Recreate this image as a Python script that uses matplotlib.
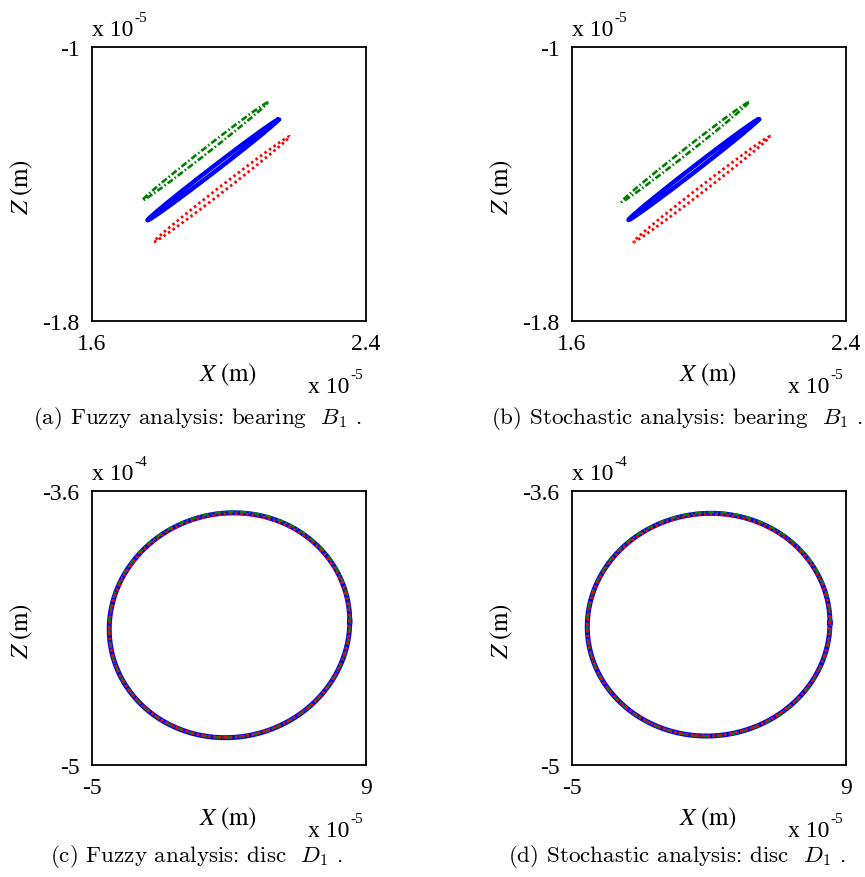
import matplotlib
matplotlib.use("Agg")
import matplotlib.pyplot as plt
import numpy as np

# orbit data. x in 1e-5 m, z in 1e-5 m (bearing) / 1e-4 m (disc)
# order of each list: upper bound (green), nominal (blue), lower bound (red)
fuzzy_b1_cx = [1.930, 1.953, 1.979]
fuzzy_b1_cz = [-1.305, -1.359, -1.415]
fuzzy_b1_ax = [0.183, 0.191, 0.198]
fuzzy_b1_az = [0.143, 0.147, 0.154]
fuzzy_b1_phase = [4.0, 3.6, 4.0]

stoch_b1_cx = [1.930, 1.955, 1.979]
stoch_b1_cz = [-1.307, -1.358, -1.415]
stoch_b1_ax = [0.185, 0.190, 0.199]
stoch_b1_az = [0.145, 0.147, 0.154]
stoch_b1_phase = [4.0, 3.6, 4.0]

fuzzy_d1_cx = [2.03, 2.025, 2.02]
fuzzy_d1_cz = [-4.283, -4.286, -4.288]
fuzzy_d1_ax = [6.16, 6.145, 6.13]
fuzzy_d1_az = [0.577, 0.5745, 0.571]
fuzzy_d1_phase = [88.0, 88.0, 88.0]

stoch_d1_cx = [1.99, 1.98, 1.975]
stoch_d1_cz = [-4.281, -4.283, -4.285]
stoch_d1_ax = [6.22, 6.20, 6.19]
stoch_d1_az = [0.572, 0.569, 0.566]
stoch_d1_phase = [89.0, 89.0, 89.0]

bearing_xlim = [1.6, 2.4]
bearing_zlim = [-1.8, -1.0]
bearing_xticks = ["1.6", "2.4"]
bearing_zticks = ["-1.8", "-1"]
disc_xlim = [-5, 9]
disc_zlim = [-5, -3.6]
disc_xticks = ["-5", "9"]
disc_zticks = ["-5", "-3.6"]

captions = [
    r"(a) Fuzzy analysis: bearing  $B_1$ .",
    r"(b) Stochastic analysis: bearing  $B_1$ .",
    r"(c) Fuzzy analysis: disc  $D_1$ .",
    r"(d) Stochastic analysis: disc  $D_1$ .",
]

W, H = 865, 878
fig = plt.figure(figsize=(W / 100, H / 100), dpi=100)

serif = "Liberation Serif"
fs = 17


def fx(px):
    return px / W


def fy(py):
    return 1 - py / H


def panel(left, top, cx, cz, ax_, az_, ph, xlim, zlim, xt, zt, xexp, zexp, caption, cap_dy, blue_lw):
    ax = fig.add_axes([fx(left), fy(top + 274), fx(274), 274 / H])
    t = np.linspace(0, 2 * np.pi, 600)
    styles = [
        dict(color="green", lw=1.9, dashes=(2.4, 0.9, 0.6, 0.9), zorder=3),
        dict(color="blue", lw=blue_lw, ls="-", zorder=2),
        dict(color="red", lw=2.0, dashes=(0.9, 1.1), zorder=4),
    ]
    for i in [1, 0, 2]:
        x = cx[i] + ax_[i] * np.cos(t)
        z = cz[i] + az_[i] * np.cos(t - np.deg2rad(ph[i]))
        ax.plot(x, z, **styles[i])
    ax.set_xlim(xlim)
    ax.set_ylim(zlim)
    ax.set_xticks(xlim)
    ax.set_xticklabels(xt, fontfamily=serif, fontsize=fs)
    ax.set_yticks(zlim)
    ax.set_yticklabels(zt, fontfamily=serif, fontsize=fs)
    ax.tick_params(length=0, pad=9)
    for s in ax.spines.values():
        s.set_linewidth(1.3)

    # axis labels
    fig.text(fx(left + 136), fy(top + 327), r"$X\;\mathrm{(m)}$", ha="center", va="center",
             fontsize=fs + 1, math_fontfamily="stix")
    fig.text(fx(left - 70), fy(top + 139), r"$Z\;\mathrm{(m)}$", ha="center", va="center",
             rotation=90, fontsize=fs + 1, math_fontfamily="stix")

    # exponent labels, MATLAB style
    fig.text(fx(left), fy(top - 12), "x 10", ha="left", va="baseline", fontfamily=serif, fontsize=fs)
    fig.text(fx(left + 42), fy(top - 26), zexp, ha="left", va="baseline", fontfamily=serif, fontsize=11)
    fig.text(fx(left + 216), fy(top + 345), "x 10", ha="left", va="baseline", fontfamily=serif, fontsize=fs)
    fig.text(fx(left + 258), fy(top + 331), xexp, ha="left", va="baseline", fontfamily=serif, fontsize=11)

    fig.text(fx(left + 105), fy(top + cap_dy), caption, ha="center", va="center",
             fontfamily="cmr10", fontsize=16.6, math_fontfamily="cm")
    return ax


panel(92, 48, fuzzy_b1_cx, fuzzy_b1_cz, fuzzy_b1_ax, fuzzy_b1_az, fuzzy_b1_phase,
      bearing_xlim, bearing_zlim, bearing_xticks, bearing_zticks, "-5", "-5", captions[0], 370, 3.2)
panel(572, 48, stoch_b1_cx, stoch_b1_cz, stoch_b1_ax, stoch_b1_az, stoch_b1_phase,
      bearing_xlim, bearing_zlim, bearing_xticks, bearing_zticks, "-5", "-5", captions[1], 370, 3.2)
panel(92, 492, fuzzy_d1_cx, fuzzy_d1_cz, fuzzy_d1_ax, fuzzy_d1_az, fuzzy_d1_phase,
      disc_xlim, disc_zlim, disc_xticks, disc_zticks, "-5", "-4", captions[2], 365, 3.6)
panel(572, 492, stoch_d1_cx, stoch_d1_cz, stoch_d1_ax, stoch_d1_az, stoch_d1_phase,
      disc_xlim, disc_zlim, disc_xticks, disc_zticks, "-5", "-4", captions[3], 365, 3.6)

fig.savefig("out.png", dpi=100)
